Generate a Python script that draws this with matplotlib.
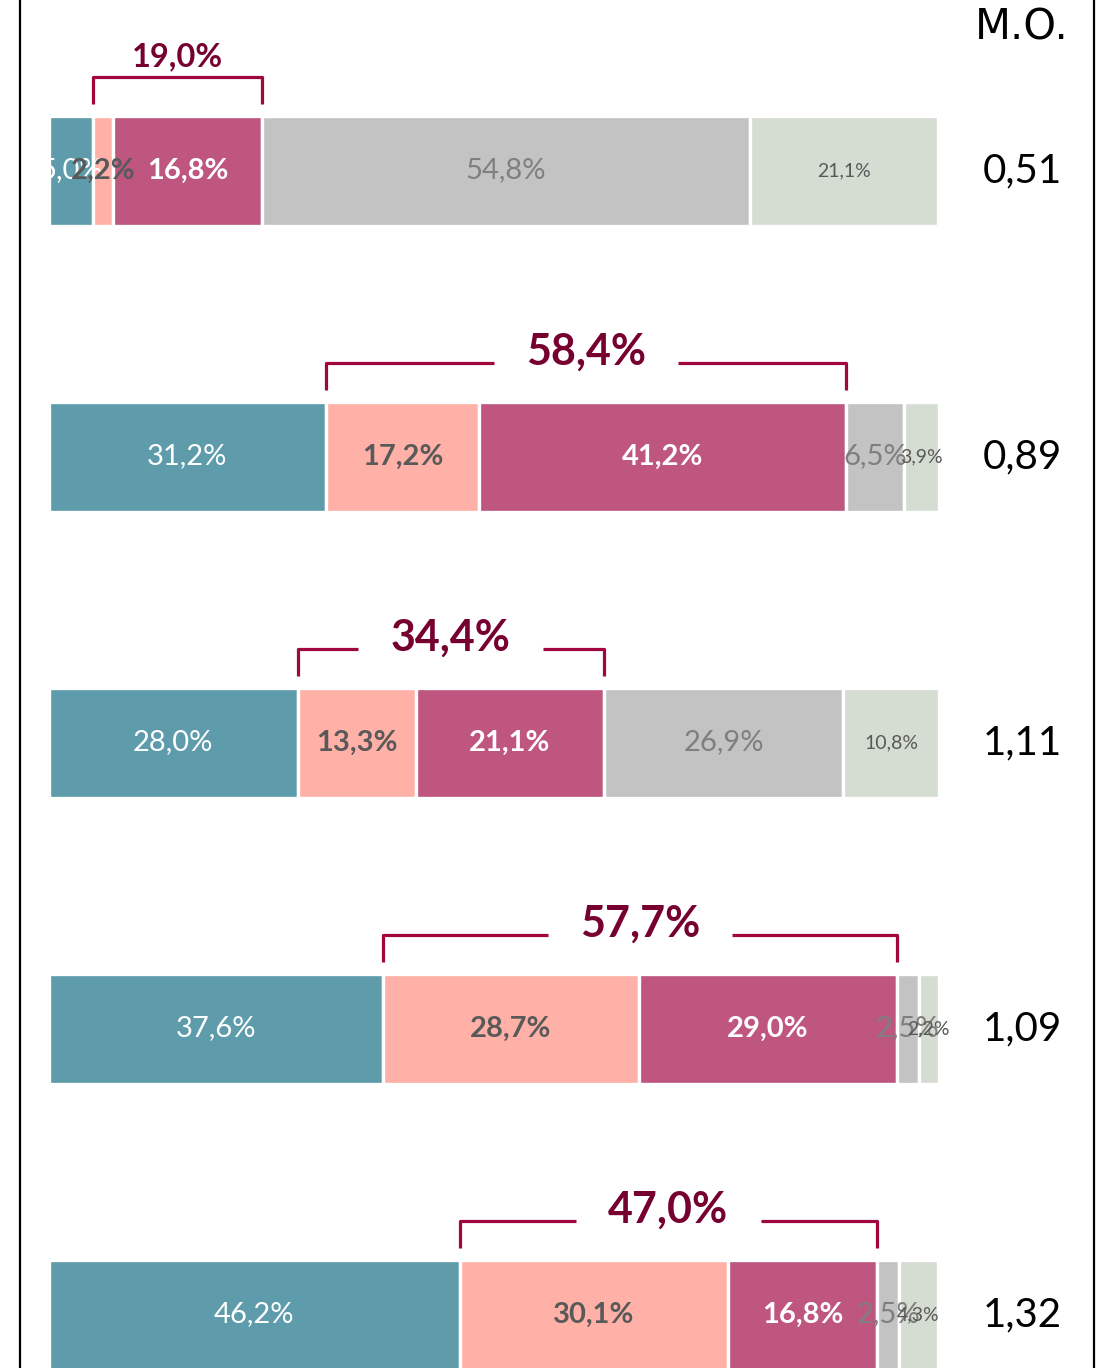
import matplotlib
matplotlib.use('Agg')
import matplotlib.pyplot as plt
from matplotlib.lines import Line2D

# share of answers per group, in percent (left to right segments)
teal = [5.0, 31.2, 28.0, 37.6, 46.2]
salmon = [2.2, 17.2, 13.3, 28.7, 30.1]
pink = [16.8, 41.2, 21.1, 29.0, 16.8]
gray = [54.8, 6.5, 26.9, 2.5, 2.5]
green = [21.1, 3.9, 10.8, 2.2, 4.3]
# salmon + pink, shown above the bracket
highlight = [19.0, 58.4, 34.4, 57.7, 47.0]
# mean score per group
mo = [0.51, 0.89, 1.11, 1.09, 1.32]

FONT = 'Lato'
BRACKET_LINE = '#A0073F'
BRACKET_TEXT = '#760030'

segments = [
    (teal, '#5E9CAC', dict(color='white', fontsize=21)),
    (salmon, '#FFB1A7', dict(color='#595959', fontsize=21, fontweight='bold')),
    (pink, '#BE5680', dict(color='white', fontsize=21, fontweight='bold')),
    (gray, '#C3C3C3', dict(color='#7F7F7F', fontsize=21)),
    (green, '#D5DDD3', dict(color='#595959', fontsize=14)),
]


def pct(v):
    return f'{v:.1f}%'.replace('.', ',')


fig = plt.figure(figsize=(11, 13.68), dpi=100)
ax = fig.add_axes([48.5 / 1100, 0, 890 / 1100, 1])
row_step = 286.0
ax.set_xlim(0, 100)
ax.set_ylim((1368 - 170.5) / row_step, -170.5 / row_step)
ax.axis('off')
PX = 1 / row_step
bar_h = 110 * PX

rows = range(len(teal))
for i in rows:
    left = 0.0
    for values, color, style in segments:
        w = values[i]
        ax.barh(i, w, left=left, height=bar_h, color=color,
                edgecolor='white', linewidth=2.4)
        ax.text(left + w / 2, i, pct(w), ha='center', va='center',
                family=FONT, **style)
        left += w

    # bracket over the salmon and pink segments
    x0 = teal[i]
    x1 = teal[i] + salmon[i] + pink[i]
    top = i - 107 * PX / 2
    y_foot = top - 13 * PX
    y_line = top - 40 * PX
    mid = (x0 + x1) / 2
    lw = dict(color=BRACKET_LINE, lw=2.3, solid_joinstyle='round',
              solid_capstyle='butt')
    if x1 - x0 < 25:
        ax.plot([x0, x0, x1, x1], [y_foot, y_line, y_line, y_foot], **lw)
        ax.text(mid, y_line - 20 * PX, pct(highlight[i]), ha='center',
                va='center', family=FONT, fontweight='bold', fontsize=23.5,
                color=BRACKET_TEXT)
    else:
        gap = 92 / 887 * 100
        ax.plot([x0, x0, mid - gap], [y_foot, y_line, y_line], **lw)
        ax.plot([mid + gap, x1, x1], [y_line, y_line, y_foot], **lw)
        ax.text(mid, y_line - 11 * PX, pct(highlight[i]), ha='center',
                va='center', family=FONT, fontweight='bold', fontsize=31,
                color=BRACKET_TEXT)

    ax.text(109.4, i, f'{mo[i]:.2f}'.replace('.', ','), ha='center',
            va='center', family=FONT, fontsize=29,
            color='black', clip_on=False)

ax.text(109.4, 28 * PX - 170.5 / row_step, 'M.O.', ha='center', va='center',
        family='Liberation Sans Narrow', fontsize=30, color='black',
        clip_on=False)

# frame sides
fig.add_artist(Line2D([20 / 1100] * 2, [0, 1], color='black', lw=1.6))
fig.add_artist(Line2D([1094 / 1100] * 2, [0, 1], color='black', lw=1.6))

fig.savefig('out.png', dpi=100)
